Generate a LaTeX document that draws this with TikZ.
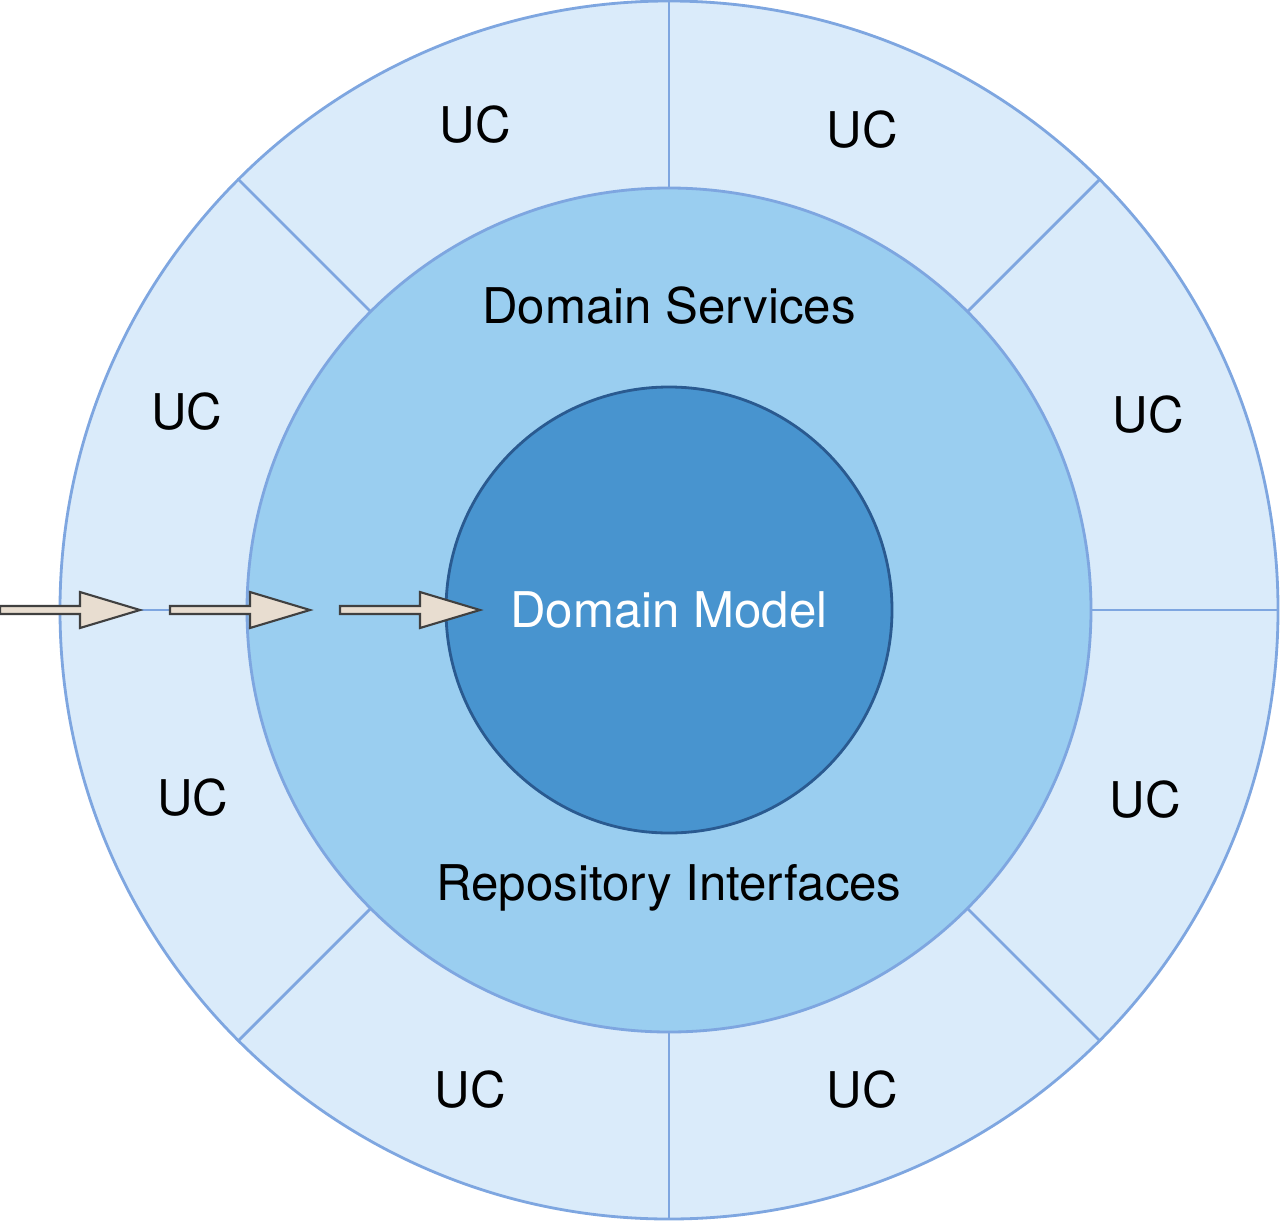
\documentclass[tikz,border=0pt]{standalone}
\usepackage{fontspec}
\setmainfont{TeX Gyre Heros}
\usepackage{xcolor}
\usepackage{tikz}
\usetikzlibrary{positioning}

\definecolor{ringline}{HTML}{7EA6E0}
\definecolor{outerfill}{HTML}{DAEBFA}
\definecolor{midfill}{HTML}{9ACEF0}
\definecolor{corefill}{HTML}{4894CF}
\definecolor{coreline}{HTML}{2A5A90}
\definecolor{arrowfill}{HTML}{E8DDD0}

% block arrow: start x, end x, at height 0
\newcommand{\flowarrow}[2]{%
  \draw[flow] (#1,-0.04) -- (#2-0.6,-0.04) -- (#2-0.6,-0.18) -- (#2,0)
    -- (#2-0.6,0.18) -- (#2-0.6,0.04) -- (#1,0.04) -- cycle;}

\begin{document}
\begin{tikzpicture}[
    ring/.style={draw=ringline,line width=0.8pt},
    uclabel/.style={font=\fontsize{14}{16}\selectfont},
    flow/.style={draw=black!75,fill=arrowfill,line width=0.6pt}]
    \useasboundingbox (-6.69,-6.11) rectangle (6.11,6.10);

    % Outer ring of use cases
    \draw[ring,fill=outerfill] (0,0) circle (6.09);
    \foreach \a in {0,45,...,315}
        \draw[ring] (\a:4.22) -- (\a:6.09);

    % Middle ring and core
    \draw[ring,fill=midfill] (0,0) circle (4.22);
    \draw[draw=coreline,line width=0.8pt,fill=corefill] (0,0) circle (2.23);

    % Use case labels
    \node[uclabel] (uc1) at (-1.94,4.85) {UC};
    \node[uclabel] (uc2) at (1.93,4.80) {UC};
    \node[uclabel] (uc3) at (4.79,1.95) {UC};
    \node[uclabel] (uc4) at (4.76,-1.90) {UC};
    \node[uclabel] (uc5) at (1.93,-4.80) {UC};
    \node[uclabel] (uc6) at (-1.99,-4.80) {UC};
    \node[uclabel] (uc7) at (-4.76,-1.88) {UC};
    \node[uclabel] (uc8) at (-4.82,1.98) {UC};

    % Layer labels
    \node[uclabel] (services) at (0,3.04) {Domain Services};
    \node[uclabel] (repos) at (0,-2.78) {Repository Interfaces};
    \node[uclabel,text=white] (model) at (0,0) {Domain Model};

    % Flow arrows into the core
    \flowarrow{-6.69}{-5.29}
    \flowarrow{-4.99}{-3.59}
    \flowarrow{-3.29}{-1.89}
\end{tikzpicture}
\end{document}
